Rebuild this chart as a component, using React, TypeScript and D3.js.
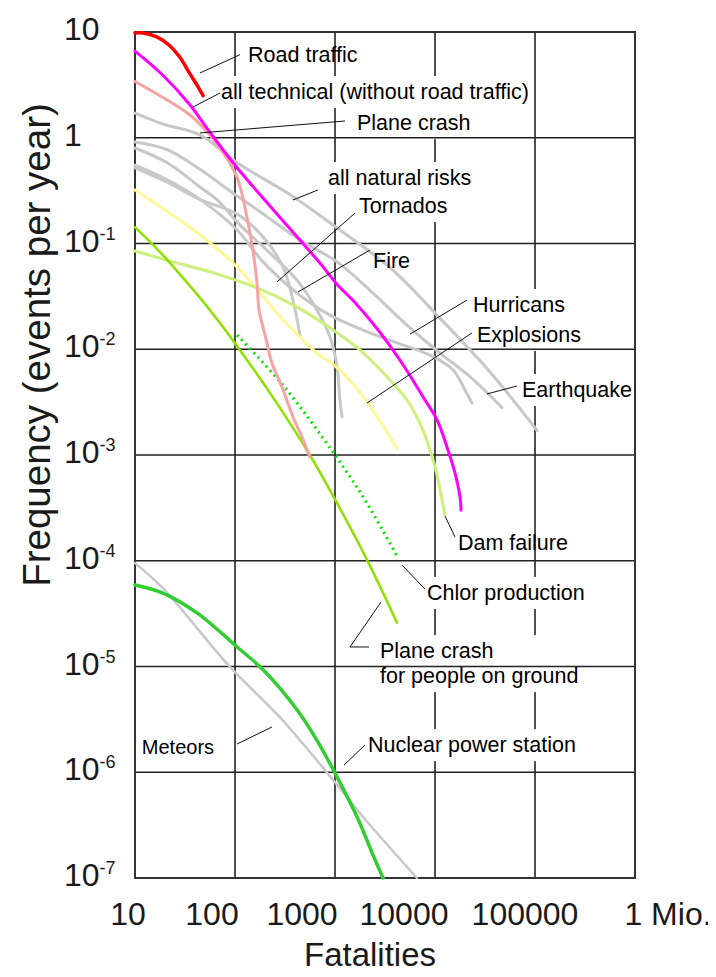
import React, { useEffect, useRef } from "react";
import * as d3 from "d3";

// axis ticks
const xTicks = [10, 100, 1000, 10000, 100000, 1000000];
const xTickLabels = ["10", "100", "1000", "10000", "100000", "1 Mio."];
const xTickShift = [-7, -23, -33, -31, -10, 33];
const yTicks = [10, 1, 0.1, 0.01, 1e-3, 1e-4, 1e-5, 1e-6, 1e-7];
const yTickBase = ["10", "1", "10", "10", "10", "10", "10", "10", "10"];
const yTickExp = ["", "", "-1", "-2", "-3", "-4", "-5", "-6", "-7"];

// curves: fatalities (N) vs frequency per year (F)
const roadN = [10, 12, 16.5, 22, 28, 35, 43, 48];
const roadF = [9.8, 9.8, 9.0, 7.5, 5.8, 4.1, 3.0, 2.5];

const techN = [10, 19, 35.5, 56, 105, 240, 710, 1050, 1510, 2700, 3800, 5400, 7600, 10500, 13500, 15800, 17800, 18200];
const techF = [6.6, 3.9, 2.04, 1.13, 0.52, 0.21, 0.065, 0.041, 0.029, 0.0152, 0.0098, 0.006, 0.00353, 0.00214, 0.00111, 0.00068, 0.0004, 0.0003];

const planeN = [10, 19, 35.5, 56, 83, 105, 120, 132, 151, 166, 174, 200, 234, 295, 380, 480, 560];
const planeF = [3.4, 2.4, 1.64, 1.06, 0.64, 0.42, 0.27, 0.174, 0.087, 0.042, 0.0235, 0.0136, 0.0074, 0.0044, 0.0023, 0.00139, 0.00096];

const naturalN = [10, 19, 45, 105, 355, 1050, 3550, 10500, 35500, 105000];
const naturalF = [1.71, 1.35, 1.06, 0.58, 0.29, 0.14, 0.059, 0.021, 0.0061, 0.0017];

const quakeN = [10, 21, 45, 95, 178, 447, 1050, 2240, 5600, 11200, 22400, 46800];
const quakeF = [0.91, 0.77, 0.5, 0.3, 0.2, 0.108, 0.067, 0.036, 0.016, 0.0092, 0.0055, 0.0028];

const fireN = [10, 21, 45, 66, 112, 224, 417, 660, 890, 1050, 1120, 1175];
const fireF = [0.8, 0.58, 0.34, 0.26, 0.15, 0.081, 0.045, 0.0235, 0.0131, 0.0068, 0.0033, 0.0023];

const tornadoN = [10, 21, 45, 105, 191, 302, 380, 447];
const tornadoF = [0.52, 0.38, 0.26, 0.19, 0.115, 0.06, 0.029, 0.0136];

const hurricanN = [10, 21, 45, 105, 191, 417, 890, 1900, 4170, 8900, 15100, 20000, 23400];
const hurricanF = [0.55, 0.4, 0.26, 0.134, 0.067, 0.034, 0.021, 0.0152, 0.0115, 0.0088, 0.0064, 0.0041, 0.0031];

const explosionN = [10, 14, 28, 52, 105, 178, 302, 660, 1050, 1780, 2630, 4170];
const explosionF = [0.32, 0.26, 0.167, 0.108, 0.06, 0.034, 0.019, 0.0092, 0.0067, 0.0039, 0.0023, 0.00116];

const damN = [10, 24, 60, 166, 417, 1050, 1780, 3300, 5250, 7600, 10000, 11500, 12600];
const damF = [0.085, 0.067, 0.053, 0.038, 0.025, 0.0143, 0.0098, 0.0055, 0.0033, 0.0017, 0.00077, 0.00042, 0.00027];

const groundN = [10, 17.8, 31.6, 56, 105, 250, 560, 1050, 2090, 4170];
const groundF = [0.143, 0.083, 0.045, 0.0235, 0.0107, 0.0033, 0.001, 0.00035, 0.000102, 2.6e-5];

const chlorN = [105, 300, 1000, 2090, 4270];
const chlorF = [0.0136, 0.0046, 0.001, 0.00035, 0.000106];

const nuclearN = [10, 19, 42, 105, 191, 417, 660, 1050, 1660, 2400, 3020];
const nuclearF = [5.9e-5, 4.95e-5, 3.2e-5, 1.53e-5, 9.3e-6, 3.9e-6, 2.0e-6, 9.0e-7, 3.8e-7, 1.65e-7, 1e-7];

const meteorN = [10, 19, 89, 282, 1050, 1900, 6600];
const meteorF = [9.5e-5, 5.5e-5, 9.9e-6, 3.3e-6, 7.6e-7, 3.8e-7, 1e-7];

// annotations: text anchor and leader line, in data units
const notes = [
  { text: ["Road traffic"], at: [135, 5.2], leader: [[44.7, 4.1], [112, 6.1]], box: false },
  { text: ["all technical (without road traffic)"], at: [72.4, 2.32], leader: [[38, 1.95], [70.8, 2.65]], box: true },
  { text: ["Plane crash"], at: [1660, 1.18], leader: [[44.7, 1.11], [1259, 1.44]], box: true },
  { text: ["all natural risks"], at: [851, 0.357], leader: [[380, 0.258], [676, 0.321]], box: true },
  { text: ["Tornados"], at: [1738, 0.194], leader: [[263, 0.0433], [1585, 0.194]], box: true },
  { text: ["Fire"], at: [2399, 0.0586], leader: [[427, 0.0348], [2239, 0.0868]], box: true },
  { text: ["Hurricans"], at: [23988, 0.0225], leader: [[5623, 0.0139], [20893, 0.0292]], box: true },
  { text: ["Explosions"], at: [26303, 0.01172], leader: [[2089, 0.0031], [23442, 0.01426]], box: true },
  { text: ["Earthquake"], at: [74131, 0.00353], leader: [[33113, 0.00378], [66069, 0.00449]], box: true },
  { text: ["Dam failure"], at: [16982, 0.000126], leader: [[12589, 0.000265], [15849, 0.000168]], box: false },
  { text: ["Chlor production"], at: [8318, 4.26e-5], leader: [[4677, 9.1e-5], [7943, 5.4e-5]], box: true },
  { text: ["Plane crash", "for people on ground"], at: [2818, 1.2e-5], leader: [[2884, 4.07e-5], [1413, 1.53e-5], [2188, 1.53e-5]], box: true },
  { text: ["Meteors"], at: [11.7, 1.49e-6], leader: [[105, 1.85e-6], [234, 2.68e-6]], box: false },
  { text: ["Nuclear power station"], at: [2138, 1.55e-6], leader: [[1230, 1.17e-6], [1995, 1.81e-6]], box: true },
];

const FONT = "'Liberation Sans', Arial, sans-serif";
const GREY = "#c8c8c8";

function App() {
  const ref = useRef<SVGSVGElement | null>(null);

  useEffect(() => {
    if (!ref.current) return;
    const svg = d3.select(ref.current);
    svg.selectAll("*").remove();

    const x = d3.scaleLog().domain([10, 1e6]).range([135, 635]);
    const y = d3.scaleLog().domain([1e-7, 10]).range([878, 32]);

    const series = [
      { n: naturalN, f: naturalF, color: GREY, w: 3 },
      { n: quakeN, f: quakeF, color: GREY, w: 3 },
      { n: fireN, f: fireF, color: GREY, w: 3 },
      { n: tornadoN, f: tornadoF, color: GREY, w: 3 },
      { n: hurricanN, f: hurricanF, color: GREY, w: 3 },
      { n: meteorN, f: meteorF, color: GREY, w: 2.5 },
      { n: explosionN, f: explosionF, color: "#fff899", w: 3 },
      { n: damN, f: damF, color: "#ccf07c", w: 3 },
      { n: groundN, f: groundF, color: "#8ee000", w: 2.5 },
      { n: chlorN, f: chlorF, color: "#00e600", w: 3, dash: "2 4" },
      { n: nuclearN, f: nuclearF, color: "#33cc33", w: 3.5 },
      { n: planeN, f: planeF, color: "#f7a3a3", w: 3 },
      { n: techN, f: techF, color: "#ff00ff", w: 3 },
      { n: roadN, f: roadF, color: "#ff0000", w: 3.5 },
    ];

    const gVert = svg.append("g");
    const gBg = svg.append("g");
    const gHoriz = svg.append("g");
    const gCurves = svg.append("g");
    const gLeaders = svg.append("g");
    const gText = svg.append("g").style("font-family", FONT);

    // vertical grid
    gVert.selectAll("line")
      .data(xTicks.slice(1, -1))
      .enter()
      .append("line")
      .attr("x1", d => x(d)).attr("x2", d => x(d))
      .attr("y1", y(10)).attr("y2", y(1e-7))
      .attr("stroke", "#222").attr("stroke-width", 1.6);

    // horizontal grid + frame
    gHoriz.selectAll("line")
      .data(yTicks.slice(1, -1))
      .enter()
      .append("line")
      .attr("x1", x(10)).attr("x2", x(1e6))
      .attr("y1", d => y(d)).attr("y2", d => y(d))
      .attr("stroke", "#222").attr("stroke-width", 1.6);

    gHoriz.append("rect")
      .attr("x", x(10)).attr("y", y(10))
      .attr("width", x(1e6) - x(10)).attr("height", y(1e-7) - y(10))
      .attr("fill", "none").attr("stroke", "#333").attr("stroke-width", 2);

    const line = d3.line<number[]>()
      .x(d => x(d[0]))
      .y(d => y(d[1]))
      .curve(d3.curveCatmullRom.alpha(0.5));

    series.forEach(s => {
      gCurves.append("path")
        .datum(s.n.map((v, i) => [v, s.f[i]]))
        .attr("d", line)
        .attr("fill", "none")
        .attr("stroke", s.color)
        .attr("stroke-width", s.w)
        .attr("stroke-linecap", s.dash ? "butt" : "round")
        .attr("stroke-dasharray", s.dash || null);
    });

    // annotations
    notes.forEach(nt => {
      gLeaders.append("path")
        .attr("d", d3.line<number[]>().x(d => x(d[0])).y(d => y(d[1]))(nt.leader))
        .attr("fill", "none")
        .attr("stroke", "#111")
        .attr("stroke-width", 1);

      const t = gText.append("text")
        .attr("x", x(nt.at[0]))
        .attr("y", y(nt.at[1]))
        .attr("font-size", nt.text[0] === "Meteors" ? 20 : 21.5)
        .attr("fill", "#000");
      nt.text.forEach((s, i) => {
        t.append("tspan")
          .attr("x", x(nt.at[0]))
          .attr("dy", i === 0 ? 0 : 25)
          .text(s);
      });

      if (nt.box) {
        const b = (t.node() as SVGTextElement).getBBox();
        gBg.append("rect")
          .attr("x", b.x - 5).attr("y", b.y - 4)
          .attr("width", b.width + 10).attr("height", b.height + 8)
          .attr("fill", "#fff");
      }
    });

    // y tick labels
    yTicks.forEach((v, i) => {
      const t = gText.append("text")
        .attr("x", 64)
        .attr("y", y(v) + 8)
        .attr("font-size", 32)
        .attr("fill", "#1a1a1a");
      t.append("tspan").text(yTickBase[i]);
      if (yTickExp[i]) {
        t.append("tspan")
          .attr("dy", -12)
          .attr("font-size", 18)
          .text(yTickExp[i]);
      }
    });

    // x tick labels
    xTicks.forEach((v, i) => {
      gText.append("text")
        .attr("x", x(v) + xTickShift[i])
        .attr("y", 925)
        .attr("text-anchor", "middle")
        .attr("font-size", 32)
        .attr("fill", "#1a1a1a")
        .text(xTickLabels[i]);
    });

    gText.append("text")
      .attr("x", 370)
      .attr("y", 966)
      .attr("text-anchor", "middle")
      .attr("font-size", 33)
      .attr("fill", "#1a1a1a")
      .text("Fatalities");

    gText.append("text")
      .attr("transform", "translate(50,345) rotate(-90)")
      .attr("text-anchor", "middle")
      .attr("font-size", 38.5)
      .attr("fill", "#1a1a1a")
      .text("Frequency (events per year)");
  }, []);

  return (
    <div style={{ margin: -8 }}>
      <svg ref={ref} width={716} height={977} style={{ display: "block", background: "#fff" }}></svg>
    </div>
  );
}

export default App;
